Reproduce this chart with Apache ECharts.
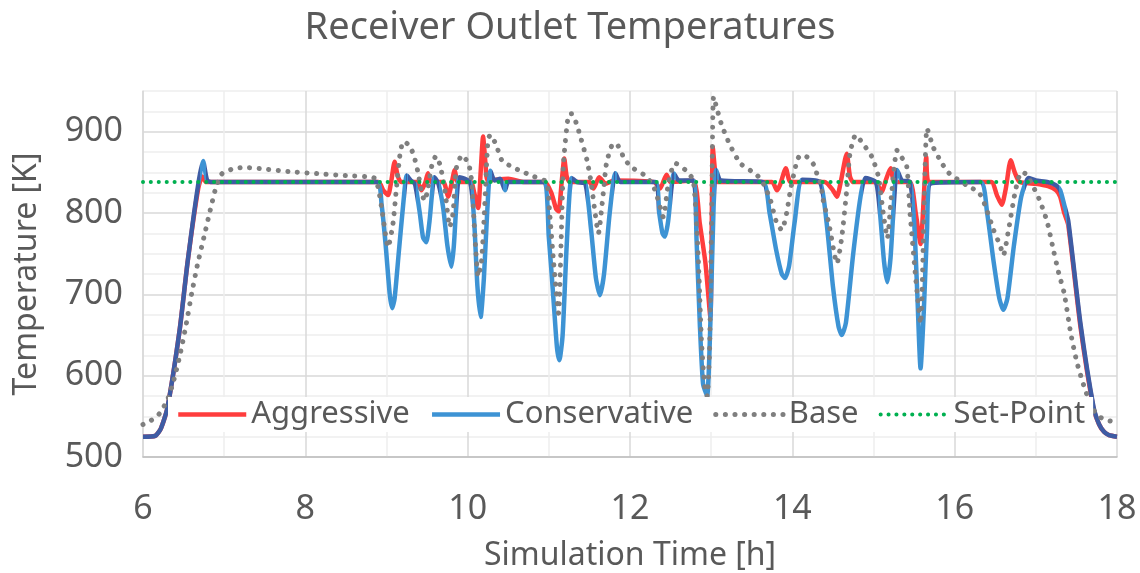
<!DOCTYPE html>
<html>
<head>
<meta charset="utf-8">
<script src="https://cdn.jsdelivr.net/npm/echarts@6/dist/echarts.min.js"></script>
<style>
  html, body { margin: 0; background: #fff; }
  #chart { width: 1140px; height: 573px; }
</style>
</head>
<body>
<div id="chart"></div>
<script>
// [time h, temperature K]
const aggressive = [
  [6.0,525],[6.15,526],[6.22,535],[6.3,560],[6.45,655],[6.55,740],[6.68,830],[6.73,845],[6.78,838],[8.9,838],
  [8.96,828],[9.02,822],[9.06,840],[9.1,863],[9.14,845],[9.18,838],[9.38,838],[9.43,828],[9.48,838],[9.51,849],[9.55,838],
  [9.7,838],[9.76,820],[9.8,835],[9.84,853],[9.88,838],[10.04,838],[10.08,825],[10.13,806],[10.16,850],[10.19,894],[10.22,860],
  [10.25,840],[10.5,842],[10.7,838],[10.95,838],[11.03,825],[11.09,805],[11.12,802],[11.16,840],[11.19,867],[11.22,845],[11.26,838],
  [11.5,838],[11.55,830],[11.62,844],[11.7,836],[11.8,840],[12.3,838],[12.37,830],[12.45,847],[12.5,838],[12.78,840],[12.86,787],
  [12.93,738],[12.99,672],[13.02,881],[13.05,850],[13.08,838],[13.75,838],[13.81,828],[13.85,835],[13.92,855],[13.98,838],[14.4,838],
  [14.5,828],[14.55,820],[14.6,840],[14.67,873],[14.71,845],[14.75,838],[15.02,838],[15.1,826],[15.15,840],[15.21,855],[15.26,838],
  [15.45,838],[15.52,800],[15.58,762],[15.62,820],[15.65,869],[15.68,838],[16.45,838],[16.52,822],[16.58,810],[16.63,830],[16.69,865],
  [16.74,850],[16.8,838],[17.0,836],[17.15,833],[17.25,828],[17.3,820],[17.35,800],[17.4,785],[17.55,660],[17.71,560],[17.78,540],
  [17.84,531],[17.9,527],[18.0,525]
];
const conservative = [
  [6.0,525],[6.15,526],[6.22,535],[6.3,560],[6.45,655],[6.55,740],[6.68,835],[6.74,864],[6.79,840],[6.85,838],[8.88,838],
  [8.94,810],[8.99,760],[9.04,700],[9.07,683],[9.1,695],[9.15,750],[9.21,815],[9.25,846],[9.3,840],
  [9.35,836],[9.41,800],[9.45,770],[9.49,764],[9.53,790],[9.59,844],
  [9.64,836],[9.7,805],[9.75,760],[9.8,734],[9.83,760],[9.87,825],[9.9,844],
  [10.03,838],[10.08,790],[10.12,710],[10.16,672],[10.2,720],[10.24,800],[10.28,852],[10.33,840],[10.4,842],[10.46,828],[10.5,838],
  [10.93,838],[11.0,770],[11.06,690],[11.1,635],[11.13,619],[11.17,650],[11.22,760],[11.28,843],[11.35,838],
  [11.45,836],[11.52,780],[11.58,720],[11.63,699],[11.68,725],[11.75,800],[11.82,849],[11.88,838],
  [12.31,838],[12.36,800],[12.4,775],[12.43,771],[12.47,790],[12.51,830],[12.54,849],[12.6,840],
  [12.78,840],[12.82,767],[12.86,664],[12.9,590],[12.95,575],[12.99,664],[13.03,808],[13.06,853],[13.12,840],
  [13.64,838],[13.72,800],[13.8,755],[13.87,725],[13.91,720],[13.96,735],[14.03,790],[14.12,841],
  [14.34,838],[14.42,790],[14.5,710],[14.57,660],[14.61,650],[14.66,665],[14.75,750],[14.84,820],[14.9,843],
  [15.03,838],[15.08,800],[15.13,740],[15.17,715],[15.21,745],[15.25,810],[15.29,853],[15.35,840],
  [15.45,838],[15.5,790],[15.54,700],[15.58,609],[15.62,680],[15.66,780],[15.7,836],
  [16.32,838],[16.4,800],[16.48,740],[16.55,695],[16.6,681],[16.65,695],[16.73,760],[16.82,820],[16.91,843],
  [17.0,840],[17.15,838],[17.25,834],[17.3,828],[17.35,810],[17.4,790],[17.55,664],[17.71,562],[17.78,540],[17.84,531],[17.9,527],[18.0,525]
];
const base = [
  [6.0,540],[6.1,545],[6.2,553],[6.3,570],[6.37,591],[6.45,623],[6.53,662],[6.6,701],[6.67,736],[6.75,770],[6.82,800],[6.9,832],
  [6.97,848],[7.1,854],[7.25,856],[7.5,854],[7.8,851],[8.2,848],[8.5,846],[8.85,843],
  [8.9,830],[8.95,800],[9.02,758],[9.08,787],[9.12,828],[9.17,875],[9.21,888],[9.27,884],[9.33,873],[9.39,849],[9.43,826],
  [9.47,815],[9.51,830],[9.56,859],[9.61,870],[9.66,859],[9.72,828],[9.78,783],[9.82,800],[9.86,855],[9.93,871],[10.01,861],
  [10.05,838],[10.09,770],[10.13,722],[10.17,740],[10.21,808],[10.25,890],[10.28,896],[10.35,884],[10.42,865],[10.54,857],
  [10.67,851],[10.81,845],[10.97,838],[11.01,800],[11.06,738],[11.12,677],[11.15,760],[11.18,860],[11.24,920],[11.28,922],
  [11.34,910],[11.4,890],[11.47,865],[11.52,838],[11.57,800],[11.61,775],[11.67,824],[11.71,861],[11.78,884],[11.83,885],
  [11.94,865],[12.04,855],[12.2,845],[12.3,830],[12.35,815],[12.41,795],[12.47,835],[12.52,855],[12.56,861],[12.68,853],
  [12.78,840],[12.84,746],[12.88,644],[12.92,586],[12.95,575],[12.98,630],[13.01,828],[13.03,943],[13.08,925],[13.13,908],
  [13.23,884],[13.36,861],[13.56,847],[13.65,835],[13.73,816],[13.8,790],[13.87,779],[13.93,800],[13.98,830],[14.06,865],
  [14.1,871],[14.18,869],[14.26,860],[14.3,849],[14.35,836],[14.38,816],[14.45,787],[14.55,738],[14.61,771],[14.67,828],
  [14.71,873],[14.78,896],[14.85,888],[14.98,869],[15.06,845],[15.12,800],[15.17,769],[15.22,820],[15.29,877],[15.35,868],
  [15.41,857],[15.45,800],[15.52,720],[15.58,664],[15.62,790],[15.66,904],[15.74,880],[15.85,860],[15.93,849],[16.15,834],
  [16.3,825],[16.38,808],[16.48,779],[16.56,760],[16.6,748],[16.66,777],[16.75,828],[16.82,850],[16.88,848],[16.97,832],
  [17.05,815],[17.14,789],[17.22,753],[17.28,727],[17.35,701],[17.43,652],[17.51,615],[17.61,582],[17.7,560],[17.76,551],
  [17.85,546],[17.97,543],[18.0,542]
];
const setPoint = [[6, 838], [18, 838]];

const xTicks = [6, 8, 10, 12, 14, 16, 18];
const yTicks = [500, 600, 700, 800, 900];

const textColor = '#595959';
const font = 'Noto Sans';
const blue = '#3d93d4';
const overlapBlue = '#3e5ca4'; // where the two controller traces lie on top of each other

// linear interpolation of a [t, v] series
function valueAt(arr, t) {
  for (let i = 1; i < arr.length; i++) {
    if (t <= arr[i][0]) {
      const [t0, v0] = arr[i - 1], [t1, v1] = arr[i];
      return v0 + (v1 - v0) * (t - t0) / (t1 - t0);
    }
  }
  return arr[arr.length - 1][1];
}

// time ranges where Aggressive and Conservative coincide
const overlapPieces = [];
let start = null;
for (let k = 0; k <= 1200; k++) {
  const t = 6 + k / 100;
  const same = Math.abs(valueAt(aggressive, t) - valueAt(conservative, t)) < 7;
  if (same && start === null) start = t;
  if (!same && start !== null) {
    overlapPieces.push({ gte: start, lt: t, color: overlapBlue });
    start = null;
  }
}
if (start !== null) overlapPieces.push({ gte: start, lte: 18, color: overlapBlue });

const chart = echarts.init(document.getElementById('chart'));

const lineSeries = (name, data, color, style) => ({
  name,
  type: 'line',
  data,
  showSymbol: false,
  symbol: 'none',
  smooth: 0.2,
  color,
  lineStyle: Object.assign({ join: 'round' }, style),
  emphasis: { disabled: true }
});

chart.setOption({
  animation: false,
  title: {
    text: 'Receiver Outlet Temperatures',
    left: 'center',
    top: 4,
    textStyle: { fontFamily: font, fontSize: 38, fontWeight: 'normal', color: textColor }
  },
  grid: { left: 143, right: 23, top: 91, bottom: 116, outerBoundsMode: 'none', containLabel: false },
  visualMap: {
    show: false,
    type: 'piecewise',
    seriesIndex: 1,
    dimension: 0,
    pieces: overlapPieces,
    outOfRange: { color: blue }
  },
  legend: {
    left: 168,
    top: 397,
    backgroundColor: '#fff',
    padding: [2, 8, 2, 8],
    itemWidth: 68,
    itemHeight: 16,
    itemGap: 20,
    itemStyle: { opacity: 0 },
    lineStyle: { width: 'inherit' },
    textStyle: { fontFamily: font, fontSize: 31, color: textColor },
    data: [
      { name: 'Aggressive' },
      { name: 'Conservative', lineStyle: { color: blue } },
      { name: 'Base' },
      { name: 'Set-Point' }
    ]
  },
  xAxis: {
    type: 'value',
    min: 6,
    max: 18,
    interval: 1,
    name: 'Simulation Time [h]',
    nameLocation: 'middle',
    nameGap: 83,
    nameTextStyle: { fontFamily: font, fontSize: 32, color: textColor },
    axisLine: { lineStyle: { color: '#bfbfbf', width: 1.5 } },
    axisTick: { show: false },
    axisLabel: {
      margin: 35,
      fontFamily: font,
      fontSize: 34,
      color: textColor,
      formatter: v => (xTicks.includes(v) ? String(v) : '')
    },
    splitLine: { show: true, lineStyle: { color: ['#d9d9d9', '#eeeeee'], width: 1.5 } }
  },
  yAxis: {
    type: 'value',
    min: 500,
    max: 950,
    interval: 25,
    name: 'Temperature [K]',
    nameLocation: 'middle',
    nameGap: 100,
    nameTextStyle: { fontFamily: font, fontSize: 32, color: textColor },
    axisLine: { show: true, lineStyle: { color: '#d9d9d9', width: 1.5 } },
    axisTick: { show: false },
    axisLabel: {
      margin: 20,
      fontFamily: font,
      fontSize: 34,
      color: textColor,
      formatter: v => (yTicks.includes(v) ? String(v) : '')
    },
    splitLine: { show: true, lineStyle: { color: ['#d9d9d9', '#eeeeee', '#eeeeee', '#eeeeee'], width: 1.5 } }
  },
  series: [
    lineSeries('Aggressive', aggressive, '#ff3d3d', { color: '#ff3d3d', width: 4.5 }),
    lineSeries('Conservative', conservative, blue, { width: 4.5 }),
    lineSeries('Base', base, '#7f7f7f', { color: '#7f7f7f', width: 5, type: [0.1, 9.5], cap: 'round' }),
    lineSeries('Set-Point', setPoint, '#00b050', { color: '#00b050', width: 4, type: [0.1, 7.8], cap: 'round' })
  ]
});
</script>
</body>
</html>
